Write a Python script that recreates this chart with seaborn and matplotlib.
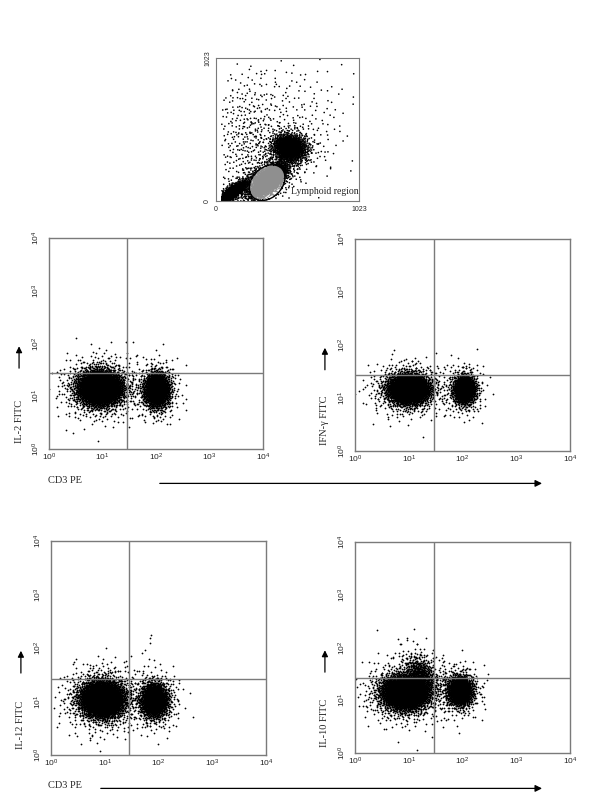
import numpy as np
import pandas as pd
import matplotlib
matplotlib.use("Agg")
import matplotlib.pyplot as plt
from matplotlib.patches import Ellipse, FancyArrowPatch
import seaborn as sns

# ---- scatter gate plot (FSC / SSC, 0-1023 channels) ----
# cluster: centre x, centre y, sd along tilt, sd across tilt, tilt (deg), events
scatter_names = ["debris", "lymphoid", "lymph_halo", "mono_gran", "spread_a", "spread_b"]
scatter_cx = [120, 385, 320, 528, 220, 560]
scatter_cy = [62, 150, 140, 380, 420, 600]
scatter_sa = [55, 70, 90, 45, 130, 230]
scatter_sb = [18, 32, 50, 58, 260, 220]
scatter_tilt = [36, 42, 40, 80, 0, 0]
scatter_events = [1500, 3000, 450, 1800, 400, 200]
lymph_gate = (366, 131, 290, 215, 45)   # x, y, width, height, angle

# ---- CD3 PE vs cytokine FITC (log10 positions) ----
panel_labels = ["IL-2 FITC", "IFN-\u03b3 FITC", "IL-12 FITC", "IL-10 FITC"]
gate_x = [1.46, 1.47, 1.45, 1.47]
gate_y = [1.44, 1.44, 1.42, 1.42]

cd3neg_x = [0.95, 0.99, 0.95, 0.93]
cd3neg_y = [1.16, 1.17, 1.05, 1.15]
cd3neg_sdx = [0.19, 0.18, 0.19, 0.20]
cd3neg_sdy = [0.15, 0.13, 0.16, 0.15]
cd3neg_events = [5200, 4200, 5000, 5000]

cd3pos_x = [2.01, 2.03, 1.92, 1.95]
cd3pos_y = [1.12, 1.16, 1.03, 1.18]
cd3pos_sdx = [0.11, 0.10, 0.12, 0.11]
cd3pos_sdy = [0.15, 0.13, 0.15, 0.13]
cd3pos_events = [2400, 1600, 2200, 2000]

# IL-10 shoulder of CD3- cells spilling into upper left quadrant
il10_shoulder = (1.22, 1.50, 0.12, 0.18, 550)

outliers_x = [[0.78, 1.43, 1.57, 0.92, 0.45],
              [1.06, 0.62, 1.40],
              [1.84, 1.84, 1.86, 1.48, 1.74, 1.40, 0.72],
              [0.84, 0.38, 0.80]]
outliers_y = [[2.00, 2.03, 2.03, 0.16, 0.30],
              [1.69, 0.60, 1.52],
              [2.10, 2.18, 2.24, 1.85, 1.96, 1.75, 0.28],
              [2.07, 1.05, 0.20]]

decade_labels = ["$10^0$", "$10^1$", "$10^2$", "$10^3$", "$10^4$"]


def halton(n, base, start=1):
    out = np.zeros(n)
    for i in range(n):
        f, r, k = 1.0, 0.0, i + start
        while k > 0:
            f /= base
            r += f * (k % base)
            k //= base
        out[i] = r
    return out


def cloud(cx, cy, sa, sb, n, tilt=0.0, start=1, halo=0.15):
    # deterministic gaussian-looking cloud (halton + box-muller), core + halo
    parts = []
    for k, (m, f) in enumerate([(int(n * (1 - halo)), 1.0), (int(n * halo), 1.9)]):
        u1 = halton(m, 2, start + k * 7919)
        u2 = halton(m, 3, start + k * 7919)
        r = np.sqrt(-2 * np.log(u1))
        a = 2 * np.pi * u2
        zx, zy = r * np.cos(a) * sa * f, r * np.sin(a) * sb * f
        t = np.deg2rad(tilt)
        parts.append((cx + zx * np.cos(t) - zy * np.sin(t),
                      cy + zx * np.sin(t) + zy * np.cos(t)))
    return np.concatenate([p[0] for p in parts]), np.concatenate([p[1] for p in parts])


sns.set_style("white")
plt.rcParams["font.family"] = ["Liberation Serif", "DejaVu Serif"]
plt.rcParams["mathtext.fontset"] = "custom"
plt.rcParams["mathtext.rm"] = "Liberation Sans"
plt.rcParams["mathtext.it"] = "Liberation Sans"

fig = plt.figure(figsize=(6, 8), dpi=100)
spine_col = "#7a7a7a"

# ---------------- top FSC/SSC plot ----------------
ax0 = fig.add_axes([0.36, 0.74875, 0.2383, 0.17875])
xs, ys, grp = [], [], []
for i, name in enumerate(scatter_names):
    x, y = cloud(scatter_cx[i], scatter_cy[i], scatter_sa[i], scatter_sb[i],
                 scatter_events[i], scatter_tilt[i], start=1 + i * 1013,
                 halo=0.0 if name.startswith("spread") else 0.15)
    xs.append(x); ys.append(y); grp.append(np.full(len(x), name))
df0 = pd.DataFrame({"x": np.concatenate(xs), "y": np.concatenate(ys), "g": np.concatenate(grp)})
df0 = df0[(df0.x > 40) & (df0.x < 1000) & (df0.y > 0)]
df0["y"] = df0["y"].clip(upper=1023)
gx, gy, gw, gh, ga = lymph_gate
t = np.deg2rad(ga)
dx, dy = df0.x - gx, df0.y - gy
u = (dx * np.cos(t) + dy * np.sin(t)) / (gw / 2)
v = (-dx * np.sin(t) + dy * np.cos(t)) / (gh / 2)
df0["gated"] = np.where(u ** 2 + v ** 2 < 0.9, "in", "out")
df0 = df0.sort_values("gated", ascending=False)   # gated (grey) events drawn last
sns.scatterplot(data=df0, x="x", y="y", hue="gated", palette={"in": "#8f8f8f", "out": "black"},
                s=1.4, linewidth=0, legend=False, ax=ax0)
ax0.add_patch(Ellipse((gx, gy), gw, gh, angle=ga, fill=False, lw=1.0, ec="black", zorder=5))
ax0.text(535, 68, "Lymphoid region", fontsize=7, va="center", ha="left", zorder=6)
ax0.set_xlim(0, 1023)
ax0.set_ylim(0, 1023)
ax0.set_xticks([0, 1023])
ax0.set_yticks([0, 1023])
ax0.set_xticklabels(["0", "1023"], fontsize=5, family="Liberation Sans")
ax0.set_yticklabels(["0", "1023"], fontsize=5, family="Liberation Sans", rotation=90, va="center")
ax0.tick_params(length=2, width=0.6, pad=1.5, color=spine_col)
ax0.set_xlabel("")
ax0.set_ylabel("")
for s in ax0.spines.values():
    s.set_color(spine_col)
    s.set_linewidth(0.8)

# ---------------- four cytokine panels ----------------
positions = [[0.0817, 0.43875, 0.3567, 0.26375],
             [0.5917, 0.43625, 0.3583, 0.265],
             [0.085, 0.05625, 0.3583, 0.2675],
             [0.5917, 0.05875, 0.3583, 0.26375]]

for p in range(4):
    ax = fig.add_axes(positions[p])
    x1, y1 = cloud(cd3neg_x[p], cd3neg_y[p], cd3neg_sdx[p], cd3neg_sdy[p],
                   cd3neg_events[p], 0, start=11 + p * 3001)
    x2, y2 = cloud(cd3pos_x[p], cd3pos_y[p], cd3pos_sdx[p], cd3pos_sdy[p],
                   cd3pos_events[p], 0, start=23 + p * 2003)
    parts_x = [x1, x2, np.array(outliers_x[p])]
    parts_y = [y1, y2, np.array(outliers_y[p])]
    if p == 3:
        sx, sy, ssx, ssy, sn = il10_shoulder
        x3, y3 = cloud(sx, sy, ssx, ssy, sn, 30, start=501, halo=0.3)
        parts_x.append(x3); parts_y.append(y3)
    d = pd.DataFrame({"cd3": 10 ** np.concatenate(parts_x), "fitc": 10 ** np.concatenate(parts_y)})
    d = d[(d.cd3 > 1) & (d.fitc > 1)]
    sns.scatterplot(data=d, x="cd3", y="fitc", color="black", s=1.6, linewidth=0,
                    legend=False, ax=ax)
    ax.set_xscale("log")
    ax.set_yscale("log")
    ax.set_xlim(1, 1e4)
    ax.set_ylim(1, 1e4)
    ax.axvline(10 ** gate_x[p], color=spine_col, lw=1.0)
    ax.axhline(10 ** gate_y[p], color=spine_col, lw=1.0)
    ax.set_xticks([1, 10, 100, 1000, 10000])
    ax.set_yticks([1, 10, 100, 1000, 10000])
    ax.set_xticklabels(decade_labels, fontsize=6)
    ax.set_yticklabels(decade_labels, fontsize=6, rotation=90, va="center")
    ax.tick_params(which="major", direction="in", length=2.5, width=0.7, color="#333333")
    ax.tick_params(which="minor", direction="in", length=1.5, width=0.6, color="#333333")
    ax.tick_params(axis="x", which="major", pad=2)
    ax.tick_params(axis="y", which="major", pad=5)
    ax.set_xlabel("")
    ax.set_ylabel("")
    for s in ax.spines.values():
        s.set_color(spine_col)
        s.set_linewidth(1.0)
    ax.text(-0.14, 0.03, panel_labels[p], transform=ax.transAxes, rotation=90,
            fontsize=7.5, ha="center", va="bottom")
    ax.annotate("", xy=(-0.14, 0.50), xytext=(-0.14, 0.37), xycoords="axes fraction",
                arrowprops=dict(arrowstyle="-|>", color="black", lw=0.9,
                                mutation_scale=9))

# CD3 PE axis labels with long arrows (top row arrow starts further right)
for ytxt, x0 in [(1 - 481 / 800, 157 / 600), (1 - 786 / 800, 98 / 600)]:
    fig.text(0.080, ytxt, "CD3 PE", fontsize=7.5, ha="left", va="center")
    fig.patches.append(FancyArrowPatch(
        (x0, ytxt - 0.003), (0.908, ytxt - 0.003), transform=fig.transFigure,
        arrowstyle="-|>", mutation_scale=10, color="black", lw=0.9))

fig.savefig("out.png", dpi=100, facecolor="white")
